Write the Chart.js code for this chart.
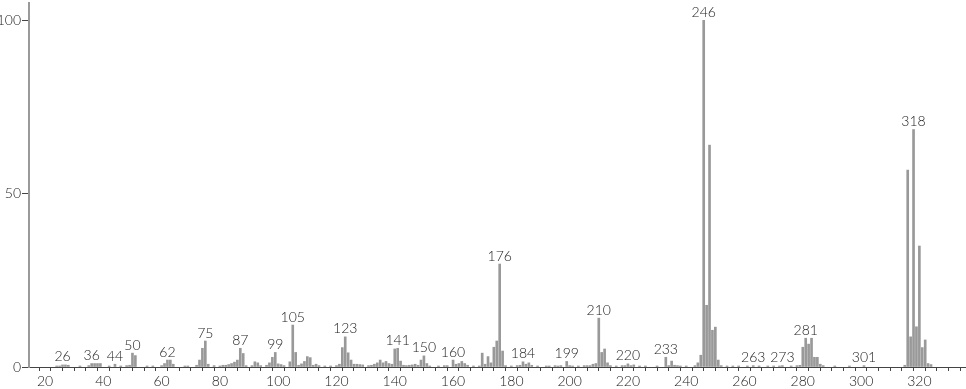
<!DOCTYPE html>
<html>
<head>
<meta charset="utf-8">
<script src="https://cdn.jsdelivr.net/npm/chart.js@4.4.1/dist/chart.umd.min.js"></script>
<style>
  html, body { margin: 0; padding: 0; background: #fff; }
  canvas { display: block; }
</style>
</head>
<body>
<canvas id="espectro" width="966" height="389"></canvas>
<script>
// m/z e intensidade relativa (%)
const massas = [
  24, 25, 26, 27, 28, 32, 35, 36, 37, 38, 39, 42, 44, 46, 48, 49, 50, 51, 55, 57,
  60, 61, 62, 63, 64, 68, 69, 72, 73, 74, 75, 76, 78, 80, 81, 82, 83, 84, 85, 86,
  87, 88, 89, 91, 92, 93, 94, 96, 97, 98, 99, 100, 101, 102, 104, 105, 106, 107, 108, 109,
  110, 111, 112, 113, 114, 116, 118, 120, 121, 122, 123, 124, 125, 126, 127, 128, 129, 131, 132, 133,
  134, 135, 136, 137, 138, 139, 140, 141, 142, 143, 144, 145, 146, 147, 148, 149, 150, 151, 152, 155,
  157, 158, 160, 161, 162, 163, 164, 165, 167, 169, 170, 171, 172, 173, 174, 175, 176, 177, 178, 180,
  182, 183, 184, 185, 186, 187, 189, 192, 193, 195, 196, 197, 199, 200, 201, 203, 205, 206, 207, 208,
  209, 210, 211, 212, 213, 214, 216, 218, 219, 220, 221, 222, 224, 226, 230, 233, 234, 235, 236, 237,
  238, 240, 243, 244, 245, 246, 247, 248, 249, 250, 251, 252, 254, 256, 258, 261, 263, 265, 268, 270,
  272, 273, 276, 278, 279, 280, 281, 282, 283, 284, 285, 286, 287, 291, 296, 301, 315, 316, 317, 318,
  319, 320, 321, 322, 323, 324
];
const intensidades = [
  0.3, 0.3, 0.6, 0.6, 0.5, 0.3, 0.4, 1.0, 1.0, 1.0, 1.0, 0.3, 0.8, 0.3, 0.4, 0.5, 4.0, 3.3, 0.3, 0.3,
  0.4, 1.0, 2.0, 2.0, 0.8, 0.3, 0.3, 0.5, 2.0, 5.4, 7.5, 0.8, 0.4, 0.3, 0.5, 0.5, 0.7, 1.0, 1.4, 2.0,
  5.4, 3.9, 0.4, 0.4, 1.5, 1.2, 0.4, 0.5, 1.2, 2.8, 4.2, 0.9, 0.7, 0.4, 1.5, 12.1, 4.2, 0.5, 0.9, 1.6,
  3.0, 2.7, 0.5, 0.8, 0.4, 0.3, 0.3, 0.4, 0.8, 5.6, 8.7, 4.1, 2.0, 0.8, 0.8, 0.7, 0.6, 0.4, 0.5, 0.8,
  1.2, 2.0, 1.2, 1.6, 1.0, 0.8, 5.2, 5.4, 1.7, 0.5, 0.4, 0.5, 0.6, 0.8, 0.5, 2.0, 3.2, 1.0, 0.3, 0.3,
  0.4, 0.4, 2.0, 0.8, 1.0, 1.6, 1.0, 0.5, 0.3, 0.3, 4.0, 0.8, 3.0, 1.2, 5.7, 7.5, 29.7, 4.6, 0.4, 0.3,
  0.4, 0.5, 1.5, 0.8, 1.2, 0.5, 0.3, 0.3, 0.3, 0.4, 0.3, 0.4, 1.6, 0.4, 0.3, 0.3, 0.4, 0.4, 0.4, 0.8,
  1.0, 14.1, 4.2, 5.2, 1.2, 0.4, 0.3, 0.4, 0.4, 0.9, 0.4, 0.6, 0.3, 0.3, 0.3, 2.8, 0.4, 1.7, 0.5, 0.4,
  0.3, 0.3, 0.4, 1.2, 3.4, 100, 17.8, 64.0, 10.6, 11.5, 2.0, 0.4, 0.3, 0.3, 0.3, 0.3, 0.4, 0.3, 0.3, 0.3,
  0.3, 0.4, 0.3, 0.4, 0.5, 5.7, 8.3, 6.6, 8.3, 2.8, 2.8, 0.8, 0.4, 0.3, 0.3, 0.4, 0.5, 56.8, 8.7, 68.5,
  11.6, 34.9, 5.6, 7.8, 1.0, 0.7
];
// picos com rótulo
const picosRotulados = [26, 36, 44, 50, 62, 75, 87, 99, 105, 123, 141, 150, 160, 176, 184, 199, 210, 220, 233, 246, 263, 273, 281, 301, 318];
const ticksY = [0, 50, 100];

const fonte = '"Lato", "DejaVu Sans", sans-serif';

// desenha os números por cima dos picos
const rotulosPicos = {
  id: 'rotulosPicos',
  afterDatasetsDraw(chart) {
    const { ctx, scales } = chart;
    ctx.save();
    ctx.font = '300 14px ' + fonte;
    ctx.fillStyle = '#222';
    ctx.textAlign = 'center';
    ctx.textBaseline = 'bottom';
    picosRotulados.forEach(mz => {
      const i = massas.indexOf(mz);
      const valor = i >= 0 ? intensidades[i] : 0;
      const x = scales.x.getPixelForValue(mz);
      const y = scales.y.getPixelForValue(valor);
      ctx.fillText(String(mz), x, y - 1);
    });
    ctx.restore();
  }
};

// sem folga automática dos rótulos nas pontas dos eixos
function semFolga(s) {
  s.paddingTop = 0;
  s.paddingBottom = 0;
  s.paddingLeft = 0;
  s.paddingRight = 0;
}

new Chart(document.getElementById('espectro'), {
  type: 'bar',
  data: {
    datasets: [{
      data: massas.map((m, i) => ({ x: m, y: intensidades[i] })),
      backgroundColor: '#999999',
      borderWidth: 0,
      barThickness: 2
    }]
  },
  options: {
    responsive: false,
    animation: false,
    layout: { padding: { top: 3, right: 0, left: 0, bottom: 0 } },
    plugins: {
      legend: { display: false },
      tooltip: { enabled: false }
    },
    scales: {
      x: {
        type: 'linear',
        min: 14.5,
        max: 336,
        offset: false,
        border: { color: '#444', width: 1 },
        grid: { drawOnChartArea: false, tickLength: 4, color: '#444' },
        ticks: {
          stepSize: 4,
          includeBounds: false,
          autoSkip: false,
          maxRotation: 0,
          padding: 2,
          color: '#222',
          font: { size: 14, family: fonte, weight: 300 },
          callback: v => (v % 20 === 0 ? v : '')
        },
        afterFit: s => { s.height = 22; semFolga(s); }
      },
      y: {
        min: 0,
        max: 105,
        border: { color: '#9a9a9a', width: 2 },
        grid: { drawOnChartArea: false, tickLength: 7, color: '#444' },
        afterBuildTicks: s => { s.ticks = ticksY.map(v => ({ value: v })); },
        ticks: {
          padding: 1,
          color: '#222',
          font: { size: 14, family: fonte, weight: 300 }
        },
        afterFit: s => { s.width = 29; semFolga(s); }
      }
    }
  },
  plugins: [rotulosPicos]
});
</script>
</body>
</html>
